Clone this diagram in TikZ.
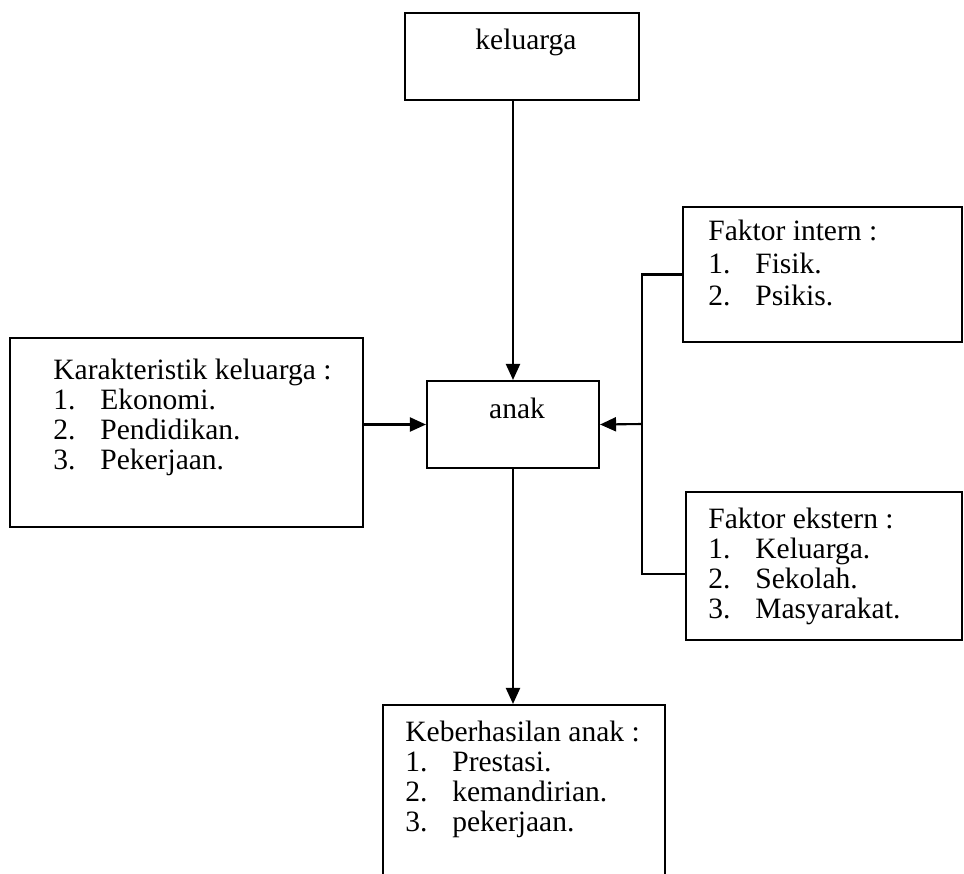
\documentclass[tikz,border=0pt]{standalone}
\usepackage{fontspec}
\setmainfont{Liberation Serif}
\usetikzlibrary{arrows.meta,fit}

\tikzset{
  box/.style={draw, line width=1.2pt, inner sep=0pt},
  txt/.style={inner sep=0pt, align=left, font=\fontsize{16.8}{17}\selectfont},
  link/.style={line width=1.2pt},
  arr/.style={line width=1.2pt, -{Triangle[length=3.2mm,width=2.8mm]}},
}
\newcommand{\itm}[2]{\makebox[0.94cm][l]{#1}#2}

\begin{document}
\begin{tikzpicture}[x=0.02cm,y=-0.02cm]
\useasboundingbox (0,0) rectangle (964,873);
\clip (0,0) rectangle (964,873);

% boxes
\node[box, fit={(405,13) (639,100)}] (kel) {};
\node[box, fit={(427,381) (599,468)}] (anak) {};
\node[box, fit={(10,338) (363,527)}] (kar) {};
\node[box, fit={(683,207) (962,342)}] (intern) {};
\node[box, fit={(686,492) (962,640)}] (ekstern) {};
\node[box, fit={(383,705) (665,880)}] (keb) {};

% texts
\node[txt, anchor=north] (kelT) at (526,29) {keluarga};
\node[txt, anchor=north] (anakT) at (517,398) {anak};
\node[txt, anchor=north west] (karT) at (53,359) {Karakteristik keluarga :\\
  \itm{1.}{Ekonomi.}\\ \itm{2.}{Pendidikan.}\\ \itm{3.}{Pekerjaan.}};
\node[txt, anchor=north west, font=\fontsize{16.8}{18.5}\selectfont] (intT) at (708,220) {Faktor intern :\\
  \itm{1.}{Fisik.}\\ \itm{2.}{Psikis.}};
\node[txt, anchor=north west] (extT) at (708,508) {Faktor ekstern :\\
  \itm{1.}{Keluarga.}\\ \itm{2.}{Sekolah.}\\ \itm{3.}{Masyarakat.}};
\node[txt, anchor=north west] (kebT) at (405,721) {Keberhasilan anak :\\
  \itm{1.}{Prestasi.}\\ \itm{2.}{kemandirian.}\\ \itm{3.}{pekerjaan.}};

% connectors
\coordinate (bus) at (642,424);
\draw[arr] (anak.north |- kel.south) -- (anak.north);
\draw[arr] (kar.east |- anak.west) -- (anak.west);
\draw[link] (intern.west) -| (bus);
\draw[link] ([yshift=-0.16cm]ekstern.west) -| (bus);
\draw[arr] (bus) -- (anak.east);
\draw[arr] (anak.south) -- (anak.south |- keb.north);
\end{tikzpicture}
\end{document}
